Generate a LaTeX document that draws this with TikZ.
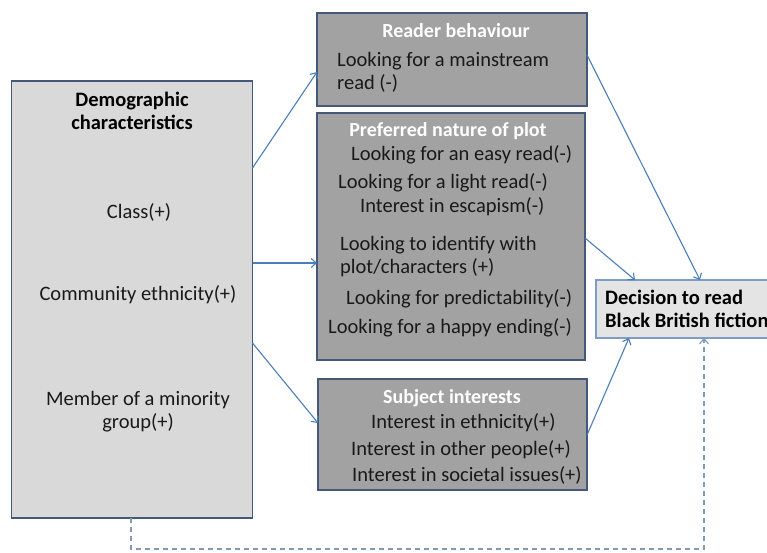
\documentclass[tikz,border=0pt]{standalone}
\usepackage{fontspec}
\setmainfont{Carlito}
\usetikzlibrary{arrows.meta}

\definecolor{edge}{HTML}{44597A}
\definecolor{lightfill}{HTML}{D9D9D9}
\definecolor{midfill}{HTML}{A2A2A2}
\definecolor{decfill}{HTML}{E4E4E4}
\definecolor{decedge}{HTML}{7E9CC6}
\definecolor{link}{HTML}{4A7EBB}
\definecolor{dashlink}{HTML}{7F9BB8}

\newcommand\bodysize{\fontsize{20.5}{24}\selectfont}
\newcommand\headsize{\fontsize{20}{24}\selectfont}

\tikzset{
  panel/.style={draw=edge, line width=1.3pt, inner sep=0pt, outer sep=0pt, rectangle},
  lightpanel/.style={panel, fill=lightfill},
  greypanel/.style={panel, fill=midfill},
  decpanel/.style={draw=decedge, line width=1.1pt, fill=decfill, inner sep=0pt, outer sep=0pt},
  body/.style={inner sep=0pt, yshift=-5.5pt, font=\bodysize, text=black!90},
  heading/.style={inner sep=0pt, yshift=-5.5pt, font=\headsize\bfseries, text=white},
  boldtext/.style={inner sep=0pt, yshift=-5.5pt, font=\bodysize\bfseries, text=black},
  arr/.style={draw=link, line width=1.1pt, -{Straight Barb[length=5pt,width=9pt]}},
  dasharr/.style={draw=dashlink, line width=1.1pt, dash pattern=on 5pt off 4pt,
                  -{Straight Barb[length=5pt,width=9pt]}},
}

\begin{document}
\begin{tikzpicture}[x=1pt,y=-1pt]
\useasboundingbox (0,0) rectangle (767,552);
\clip (0,0) rectangle (767,552);
\fill[white] (0,0) rectangle (767,552);

% boxes
\node[lightpanel, minimum width=241pt, minimum height=437pt] (demo) at (132,299.5) {};
\node[greypanel, minimum width=270pt, minimum height=93pt] (reader) at (452,59.5) {};
\node[greypanel, minimum width=268pt, minimum height=247pt] (plot) at (451,236.5) {};
\node[greypanel, minimum width=269pt, minimum height=111pt] (subj) at (452.5,434.5) {};
\node[decpanel, minimum width=180pt, minimum height=58pt] (dec) at (686,309) {};

% demographic characteristics
\node[boldtext, anchor=mid] (dh1) at (132,99) {Demographic};
\node[boldtext, anchor=mid] (dh2) at (132,122) {characteristics};
\node[body, anchor=mid] (d1) at (139,211) {Class(+)};
\node[body, anchor=mid] (d2) at (138,293) {Community ethnicity(+)};
\node[body, anchor=mid] (d3) at (138,398) {Member of a minority};
\node[body, anchor=mid] (d4) at (138,421) {group(+)};

% reader behaviour
\node[heading, anchor=mid] (rh) at (456,30) {Reader behaviour};
\node[body, anchor=mid west] (r1) at (337,59) {Looking for a mainstream};
\node[body, anchor=mid west] (r2) at (337,82) {read (-)};

% preferred nature of plot
\node[heading, anchor=mid] (ph) at (448,129) {Preferred nature of plot};
\node[body, anchor=mid west] (p1) at (351,153) {Looking for an easy read(-)};
\node[body, anchor=mid west] (p2) at (338,181) {Looking for a light read(-)};
\node[body, anchor=mid west] (p3) at (360,205) {Interest in escapism(-)};
\node[body, anchor=mid west] (p4) at (340,243) {Looking to identify with};
\node[body, anchor=mid west] (p5) at (340,266) {plot/characters (+)};
\node[body, anchor=mid west] (p6) at (346,297) {Looking for predictability(-)};
\node[body, anchor=mid west] (p7) at (328,326) {Looking for a happy ending(-)};

% subject interests
\node[heading, anchor=mid] (sh) at (452,396) {Subject interests};
\node[body, anchor=mid west] (s1) at (371,421) {Interest in ethnicity(+)};
\node[body, anchor=mid west] (s2) at (351,448) {Interest in other people(+)};
\node[body, anchor=mid west] (s3) at (352,474) {Interest in societal issues(+)};

% outcome
\node[boldtext, anchor=mid west] (o1) at (605,297) {Decision to read};
\node[boldtext, anchor=mid west] (o2) at (605,320) {Black British fiction};

% connectors
\draw[arr] ([yshift=-87pt]demo.north east) -- ([yshift=-59pt]reader.north west);
\draw[arr] ([yshift=-182pt]demo.north east) -- ([yshift=-150pt]plot.north west);
\draw[arr] ([yshift=-262pt]demo.north east) -- ([yshift=-44pt]subj.north west);
\draw[arr] ([yshift=-42pt]reader.north east) -- ([xshift=104pt]dec.north west);
\draw[arr] ([yshift=-125pt]plot.north east) -- ([xshift=39pt]dec.north west);
\draw[arr] ([yshift=-56pt]subj.north east) -- ([xshift=33pt]dec.south west);
\coordinate (lowleft) at (131,549);
\coordinate (lowright) at (704,549);
\draw[dasharr] (demo.south -| lowleft) -- (lowleft) -- (lowright) -- (lowright |- dec.south);
\end{tikzpicture}
\end{document}
